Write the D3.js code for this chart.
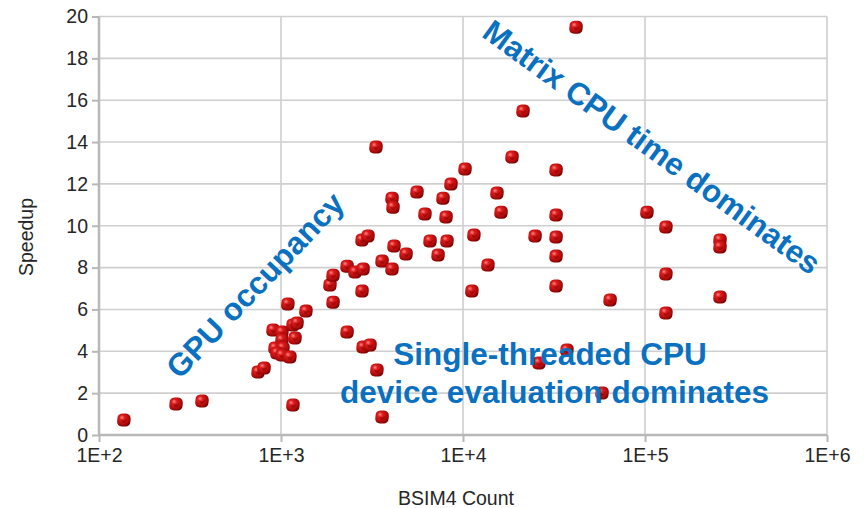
<!DOCTYPE html>
<html>
<head>
<meta charset="utf-8">
<script src="https://cdn.jsdelivr.net/npm/d3@7"></script>
<style>
  html, body { margin: 0; padding: 0; background: #fff; }
  svg { display: block; font-family: "Liberation Sans", Arial, sans-serif; }
</style>
</head>
<body>
<svg id="chart" width="864" height="508"></svg>
<script>
// ---- data ----
const bsimCount = [137,265,368,748,807,904,1012,1012,927,1025,951,1012,1119,1194,1163,1225,1371,1091,1163,
  1932,1858,1932,2307,2307,2552,2825,2788,2825,3084,2788,3006,3326,3365,3591,3591,4074,4178,4074,4125,4865,
  5587,6180,6590,7295,7764,8070,8166,8590,10260,11190,11480,13710,15370,16180,18590,21370,24890,26170,
  32460,32460,32460,32460,32460,37240,41790,58060,64310,102500,130300,130300,130300,258300,258300,258300];
const speedup = [0.72,1.48,1.62,3.01,3.20,5.02,4.92,4.54,4.16,4.16,3.92,3.82,3.73,4.63,5.26,5.35,5.92,6.26,1.43,
  6.35,7.17,7.64,8.07,4.92,7.79,7.93,6.88,4.20,4.30,9.32,9.51,13.76,3.11,0.86,8.31,7.93,9.03,11.32,10.89,8.65,
  11.61,10.56,9.27,8.60,11.32,10.42,9.27,11.99,12.71,6.88,9.56,8.12,11.56,10.65,13.28,15.48,9.51,3.44,
  12.66,10.51,9.46,8.55,7.12,4.06,19.49,2.01,6.45,10.65,9.94,7.69,5.83,9.32,8.98,6.59];
const xTickValues = [1e2, 1e3, 1e4, 1e5, 1e6];
const xTickLabels = ["1E+2", "1E+3", "1E+4", "1E+5", "1E+6"];
const yTickValues = [0, 2, 4, 6, 8, 10, 12, 14, 16, 18, 20];
const xTitle = "BSIM4 Count";
const yTitle = "Speedup";
const annoGPU = "GPU occupancy";
const annoMatrix = "Matrix CPU time dominates";
const annoSingle = ["Single-threaded CPU", "device evaluation dominates"];

// ---- layout ----
const W = 864, H = 508;
const m = { left: 99, right: 37, top: 16.5, bottom: 73 };
const svg = d3.select("#chart");
const x = d3.scaleLog().domain([1e2, 1e6]).range([m.left, W - m.right]);
const y = d3.scaleLinear().domain([0, 20]).range([H - m.bottom, m.top]);

// gradient for markers
const defs = svg.append("defs");
const grad = defs.append("radialGradient").attr("id", "mk").attr("cx", "40%").attr("cy", "38%").attr("r", "65%").attr("fx", "35%").attr("fy", "30%");
grad.append("stop").attr("offset", "0%").attr("stop-color", "#ff8585");
grad.append("stop").attr("offset", "30%").attr("stop-color", "#dc1c1c");
grad.append("stop").attr("offset", "75%").attr("stop-color", "#b00c0c");
grad.append("stop").attr("offset", "100%").attr("stop-color", "#780000");

// gridlines
const grid = svg.append("g");
grid.selectAll("line.h").data(yTickValues.slice(1)).join("line")
  .attr("x1", m.left).attr("x2", W - m.right)
  .attr("y1", d => y(d)).attr("y2", d => y(d))
  .attr("stroke", "#cfcfcf").attr("stroke-width", 1.6);
grid.selectAll("line.v").data(xTickValues.slice(1)).join("line")
  .attr("y1", m.top).attr("y2", H - m.bottom)
  .attr("x1", d => x(d)).attr("x2", d => x(d))
  .attr("stroke", "#cfcfcf").attr("stroke-width", 1.6);

// axes
const xAxis = d3.axisBottom(x).tickValues(xTickValues).tickFormat((d, i) => xTickLabels[i]).tickSize(7).tickPadding(6);
const yAxis = d3.axisLeft(y).tickValues(yTickValues).tickSize(7).tickPadding(4);
const gx = svg.append("g").attr("transform", `translate(0,${H - m.bottom})`).call(xAxis);
const gy = svg.append("g").attr("transform", `translate(${m.left},0)`).call(yAxis);
[gx, gy].forEach(g => {
  g.select(".domain").attr("stroke", "#b8b8b8").attr("stroke-width", 2.5);
  g.selectAll(".tick line").attr("stroke", "#b8b8b8").attr("stroke-width", 2);
  g.selectAll(".tick text").attr("fill", "#262626").style("font-size", "19.5px").style("font-family", "'Liberation Sans', Arial, sans-serif");
});
gx.select(".domain").attr("d", `M${m.left},0H${W - m.right}`);
gy.select(".domain").attr("d", `M0,${m.top}V${H - m.bottom}`);

// axis titles
svg.append("text").attr("x", 456).attr("y", 505).attr("text-anchor", "middle")
  .attr("fill", "#262626").style("font-size", "19.5px").text(xTitle);
svg.append("text").attr("transform", "translate(33,237) rotate(-90)").attr("text-anchor", "middle")
  .attr("fill", "#262626").style("font-size", "19.5px").text(yTitle);

// points
const pts = bsimCount.map((c, i) => ({ c, s: speedup[i] }));
const gp = svg.append("g");
gp.selectAll("g.pt").data(pts).join("g").attr("class", "pt")
  .attr("transform", d => `translate(${x(d.c)},${y(d.s)})`)
  .each(function () {
    const g = d3.select(this);
    g.append("path")
      .attr("d", "M-6.5,-1.5 Q-6.5,-6 -1.5,-6.5 L2,-6.5 Q6.8,-6 6.8,-1 L6.5,2 Q6,6.3 1.5,6.5 L-2,6.5 Q-6.5,6 -6.8,2 Z")
      .attr("fill", "url(#mk)");
    g.append("path").attr("d", "M-3,-1 Q0,2 3.5,-1.5 Q2,4 -1,3 Z").attr("fill", "#8e0000").attr("opacity", 0.55);
  });

// annotations
const blue = "#0a70c0";
svg.append("text").attr("transform", "translate(255,285) rotate(-46.5)")
  .attr("text-anchor", "middle").attr("dominant-baseline", "central")
  .attr("fill", blue).style("font-size", "31.5px").style("font-weight", "bold").text(annoGPU);
svg.append("text").attr("transform", "translate(652,147) rotate(36)")
  .attr("text-anchor", "middle").attr("dominant-baseline", "central")
  .attr("fill", blue).style("font-size", "31.5px").style("font-weight", "bold").text(annoMatrix);
svg.append("text").attr("x", 550).attr("y", 365).attr("text-anchor", "middle")
  .attr("fill", blue).style("font-size", "31.5px").style("font-weight", "bold").text(annoSingle[0]);
svg.append("text").attr("x", 554.5).attr("y", 403).attr("text-anchor", "middle")
  .attr("fill", blue).style("font-size", "31.5px").style("font-weight", "bold").text(annoSingle[1]);
</script>
</body>
</html>
